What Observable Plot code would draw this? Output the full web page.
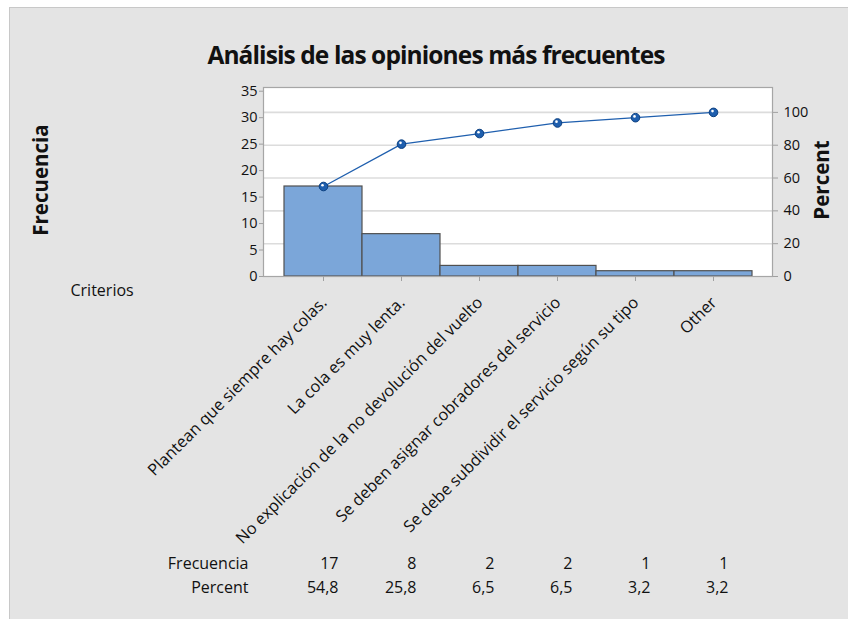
<!DOCTYPE html>
<html>
<head>
<meta charset="utf-8">
<script src="https://cdn.jsdelivr.net/npm/d3@7"></script>
<script src="https://cdn.jsdelivr.net/npm/@observablehq/plot@0.6"></script>
<style>
  html, body { margin: 0; padding: 0; background: white; }
  #wrap { position: relative; width: 848px; height: 619px; overflow: hidden; }
  #bg { position: absolute; left: 9px; top: 7px; right: 0; bottom: 0; background: #e4e4e4;
        border-top: 1px solid #c8c8c8; border-left: 1px solid #c8c8c8; }
  #chart { position: absolute; left: 0; top: 0; }
  svg { font-family: "Open Sans", "Noto Sans", sans-serif; }
</style>
</head>
<body>
<div id="wrap"><div id="bg"></div><div id="chart"></div></div>
<script>
const title = "Análisis de las opiniones más frecuentes";
const categories = [
  "Plantean que siempre hay colas.",
  "La cola es muy lenta.",
  "No explicación de la no devolución del vuelto",
  "Se deben asignar cobradores del servicio",
  "Se debe subdividir el servicio según su tipo",
  "Other"
];
const counts = [17, 8, 2, 2, 1, 1];
const percents = ["54,8", "25,8", "6,5", "6,5", "3,2", "3,2"];
const cumulative = [17, 25, 27, 29, 30, 31];
const total = 31;
const leftTicks = [0, 5, 10, 15, 20, 25, 30, 35];
const pctTicks = [0, 20, 40, 60, 80, 100];

const data = categories.map((c, i) => ({cat: c, count: counts[i], pct: percents[i], cum: cumulative[i]}));
const pctPos = pctTicks.map(p => p * total / 100);

const chart = Plot.plot({
  width: 848,
  height: 619,
  marginLeft: 263,
  marginRight: 76,
  marginTop: 87,
  marginBottom: 343,
  style: {background: "transparent", fontFamily: "'Open Sans', 'Noto Sans', sans-serif", color: "black"},
  x: {type: "band", domain: categories, paddingInner: 0, paddingOuter: 0.25},
  y: {domain: [0, 35.7]},
  marks: [
    Plot.frame({fill: "white"}),
    Plot.ruleY(pctPos.slice(1), {stroke: "#dcdcdc", strokeWidth: 1.6}),
    Plot.barY(data, {x: "cat", y: "count", fill: "#7BA6D9", stroke: "#505050", strokeWidth: 1.2}),
    Plot.lineY(data, {x: "cat", y: "cum", stroke: "#1F5FAE", strokeWidth: 1.3}),
    Plot.dot(data, {x: "cat", y: "cum", r: 4.3, fill: "#1F5FAE", stroke: "#0B3F80", strokeWidth: 1}),
    Plot.dot(data, {x: "cat", y: "cum", r: 1.3, fill: "white", dx: -1, dy: -1.3}),
    Plot.frame({stroke: "#a6a6a6", strokeWidth: 1.2}),
    Plot.axisY(leftTicks, {anchor: "left", tickSize: 4, tickPadding: 2, stroke: "#a0a0a0", fill: "#111", fontSize: 14.5, label: null}),
    Plot.axisY(pctPos, {anchor: "right", tickSize: 5, tickPadding: 6, stroke: "#a0a0a0", fill: "#111", fontSize: 14.5, label: null,
      tickFormat: d => String(Math.round(d / total * 100))}),
    Plot.axisX({anchor: "bottom", tickSize: 5, stroke: "#a0a0a0", tickFormat: () => "", label: null}),
    Plot.text(categories, {x: d => d, frameAnchor: "bottom", dx: -4, dy: 19, rotate: -45, textAnchor: "end", lineAnchor: "top", fontSize: 16.3, fill: "#111"}),
    // data table
    Plot.text(data, {x: "cat", text: d => String(d.count), frameAnchor: "bottom", dx: 15, dy: 292, textAnchor: "end", fontSize: 16, fill: "#111"}),
    Plot.text(data, {x: "cat", text: "pct", frameAnchor: "bottom", dx: 15, dy: 316, textAnchor: "end", fontSize: 16, fill: "#111"}),
    Plot.text(["Frecuencia"], {frameAnchor: "bottom-left", dx: -15, dy: 292, textAnchor: "end", fontSize: 16, fill: "#111"}),
    Plot.text(["Percent"], {frameAnchor: "bottom-left", dx: -15, dy: 316, textAnchor: "end", fontSize: 16, fill: "#111"}),
    Plot.text(["Criterios"], {frameAnchor: "bottom-left", dx: -193, dy: 19, textAnchor: "start", fontSize: 16, fill: "#111"}),
    // axis titles
    Plot.text(["Frecuencia"], {frameAnchor: "left", dx: -222, dy: -2, rotate: -90, textAnchor: "middle", fontSize: 20.5, fontWeight: "bold", fill: "#111"}),
    Plot.text(["Percent"], {frameAnchor: "right", dx: 50, dy: -2, rotate: -90, textAnchor: "middle", fontSize: 20.5, fontWeight: "bold", fill: "#111"}),
    // title
    Plot.text([title], {frameAnchor: "top", dx: -82, dy: -41, textAnchor: "middle", fontSize: 24.5, fontWeight: "bold", fill: "#111"})
  ]
});
d3.select(chart).selectAll("text")
  .filter(function() { return this.textContent === title; })
  .style("letter-spacing", "-0.9px");
document.getElementById("chart").appendChild(chart);
</script>
</body>
</html>
